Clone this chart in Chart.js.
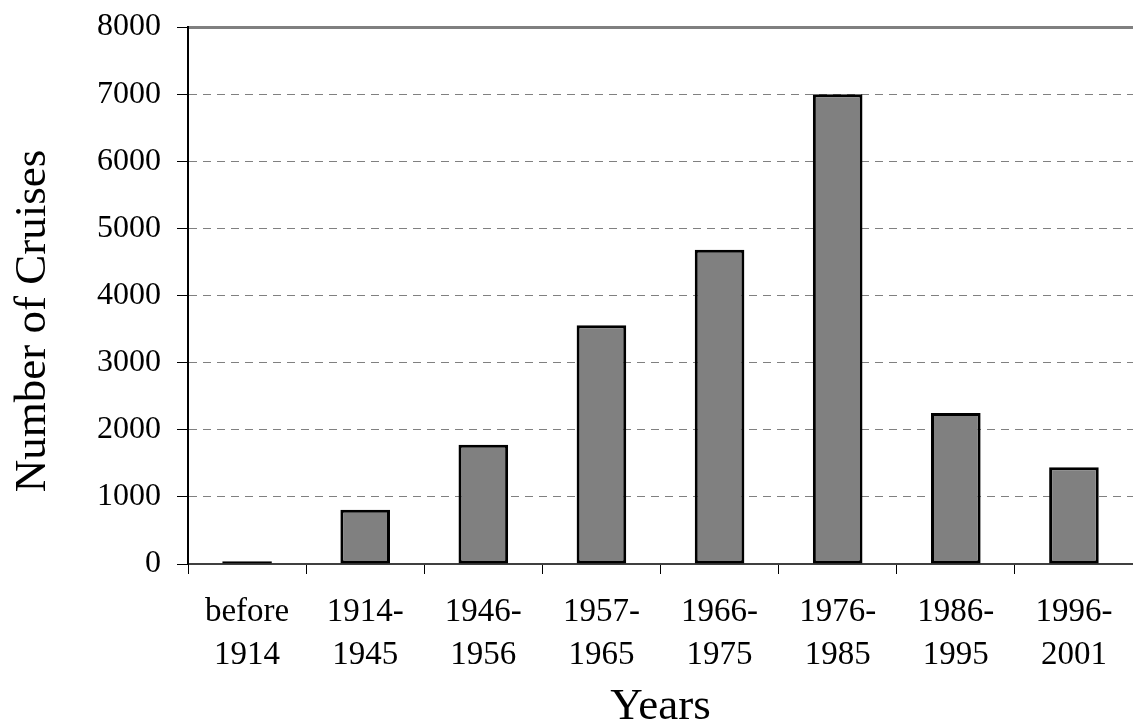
<!DOCTYPE html>
<html>
<head>
<meta charset="utf-8">
<script src="https://cdn.jsdelivr.net/npm/chart.js@4/dist/chart.umd.min.js"></script>
<style>
html,body{margin:0;padding:0;background:#fff;}
#wrap{width:1133px;height:725px;}
</style>
</head>
<body>
<div id="wrap"><canvas id="c" width="1133" height="725"></canvas></div>
<script>
const categories = [["before","1914"],["1914-","1945"],["1946-","1956"],["1957-","1965"],["1966-","1975"],["1976-","1985"],["1986-","1995"],["1996-","2001"]];
const cruises = [40, 810, 1775, 3555, 4680, 7000, 2250, 1440];
const yTicks = [0,1000,2000,3000,4000,5000,6000,7000,8000];
const xTitle = "Years";
const yTitle = "Number of Cruises";

const FONT = "'Liberation Serif', 'Times New Roman', serif";

const extras = {
  id: 'extras',
  afterDraw(chart) {
    const ctx = chart.ctx;
    ctx.save();
    ctx.translate(45, 321);
    ctx.rotate(-Math.PI / 2);
    ctx.font = "45px " + FONT;
    ctx.fillStyle = '#000';
    ctx.textAlign = 'center';
    ctx.textBaseline = 'alphabetic';
    ctx.fillText(yTitle, 0, 0);
    ctx.restore();
  }
};

new Chart(document.getElementById('c'), {
  type: 'bar',
  data: {
    labels: categories,
    datasets: [{
      data: cruises,
      backgroundColor: '#808080',
      borderColor: '#000',
      borderWidth: 3,
      borderSkipped: false,
      categoryPercentage: 1.0,
      barPercentage: 0.42,
      inflateAmount: 0
    }]
  },
  options: {
    responsive: false,
    animation: false,
    devicePixelRatio: 1,
    layout: { padding: { top: 27, right: 0, left: 0, bottom: 0 } },
    plugins: { legend: { display: false }, tooltip: { enabled: false } },
    scales: {
      x: {
        offset: true,
        grid: { offset: true, drawOnChartArea: false, drawTicks: true, tickLength: 10, tickColor: '#000', tickWidth: 1 },
        border: { display: true, color: '#404040', width: 2 },
        ticks: { color: '#000', font: { family: FONT, size: 33, lineHeight: 1.3 }, padding: 17, maxRotation: 0, autoSkip: false },
        title: { display: true, text: xTitle, color: '#000', font: { family: FONT, size: 45, lineHeight: 1.0 }, padding: { top: 0, bottom: -5 } },
        afterFit(scale) { scale.height = 161; scale.paddingLeft = 0; scale.paddingRight = 0; }
      },
      y: {
        min: 0, max: 8000,
        afterBuildTicks(scale) { scale.ticks = yTicks.map(v => ({ value: v })); },
        grid: {
          color: (c) => (c.tick && c.tick.value === 0) ? 'rgba(0,0,0,0)' : '#808080',
          lineWidth: (c) => (c.tick && c.tick.value === 8000) ? 3 : 1,
          tickLength: 11, tickColor: '#000', tickWidth: 1, drawTicks: true
        },
        border: {
          display: true, color: '#000', width: 2,
          dash: (c) => (c.tick && c.tick.value > 0 && c.tick.value < 8000) ? [8, 6] : []
        },
        ticks: { color: '#000', font: { family: FONT, size: 32 }, padding: 16, autoSkip: false,
                 callback: (v) => String(v) },
        afterFit(scale) { scale.width = 188; scale.paddingTop = 0; scale.paddingBottom = 0; }
      }
    }
  },
  plugins: [extras]
});
</script>
</body>
</html>
